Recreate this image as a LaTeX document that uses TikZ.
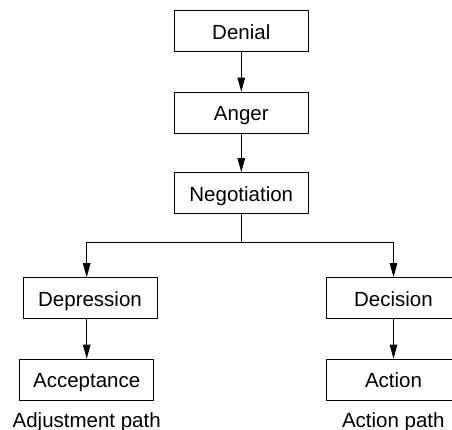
\documentclass[tikz,border=0pt]{standalone}
\usepackage{fontspec}
\setmainfont{Liberation Sans}
\usetikzlibrary{arrows.meta}
\begin{document}
\begin{tikzpicture}[x=1pt,y=-1pt,
  stage/.style={draw, line width=1pt, minimum width=134pt, minimum height=41pt,
    inner sep=0pt, text height=16pt, text depth=0pt,
    font=\fontsize{20.5}{24}\selectfont},
  caption/.style={anchor=base, inner sep=0pt, font=\fontsize{20.5}{24}\selectfont},
  link/.style={line width=1pt},
  flow/.style={link, -{Triangle[length=14pt,width=7.5pt]}}]
  \useasboundingbox (0,0) rectangle (452,430);
  \begin{scope}
    \clip (0,0) rectangle (452,430);
    % main sequence
    \node[stage] (den) at (241.3,31.3) {Denial};
    \node[stage] (ang) at (241.3,112.7) {Anger};
    \node[stage] (neg) at (241.3,193.2) {Negotiation};
    % two branches
    \node[stage] (dep) at (90,298.2) {Depression};
    \node[stage] (acc) at (86.7,379.7) {Acceptance};
    \node[stage] (dec) at (393.5,298.2) {Decision};
    \node[stage] (act) at (393.5,379.7) {Action};
    % path captions
    \node[caption] (adj) at (86.7,427) {Adjustment path};
    \node[caption] (actp) at (393.3,427) {Action path};
    % connectors
    \coordinate (split) at (241.7,242.3);
    \draw[flow] (den) -- (ang);
    \draw[flow] (ang) -- (neg);
    \draw[link] (neg.south -| split) -- (split);
    \draw[flow] (split) -| (acc.north |- dep.north);
    \draw[flow] (split) -| (dec.north);
    \draw[flow] (acc.north |- dep.south) -- (acc.north);
    \draw[flow] (dec) -- (act);
  \end{scope}
\end{tikzpicture}
\end{document}
